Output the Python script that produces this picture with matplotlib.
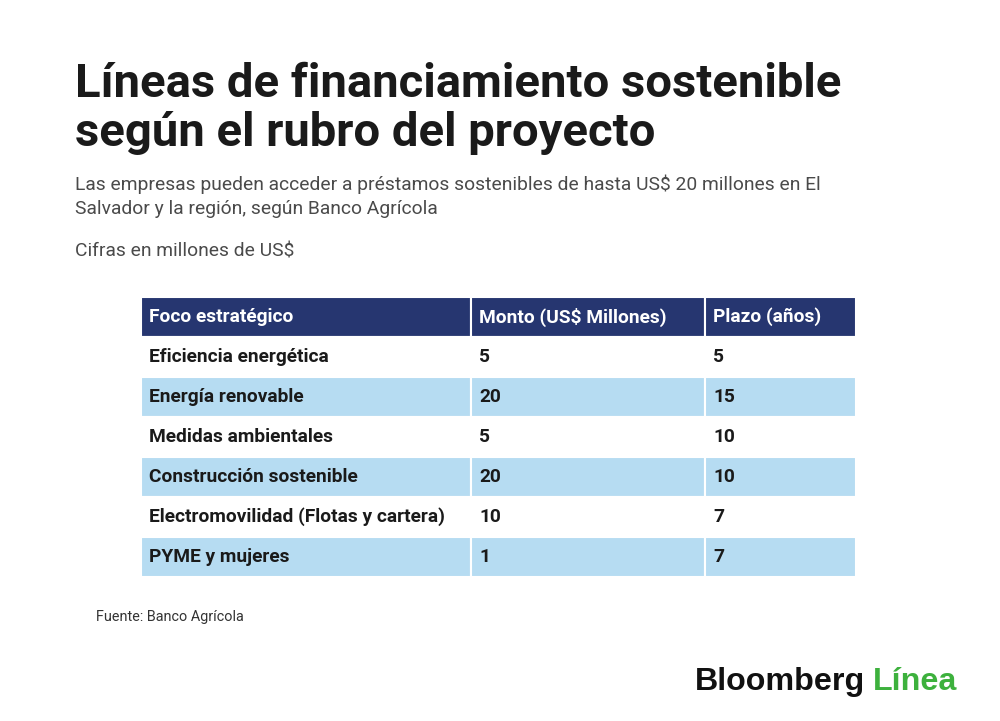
import matplotlib
matplotlib.use("Agg")
import matplotlib.pyplot as plt
from matplotlib.patches import Rectangle

title_lines = ["Líneas de financiamiento sostenible", "según el rubro del proyecto"]
subtitle_lines = ["Las empresas pueden acceder a préstamos sostenibles de hasta US$ 20 millones en El",
                  "Salvador y la región, según Banco Agrícola"]
units_note = "Cifras en millones de US$"
headers = ["Foco estratégico", "Monto (US$ Millones)", "Plazo (años)"]
categories = ["Eficiencia energética", "Energía renovable", "Medidas ambientales",
              "Construcción sostenible", "Electromovilidad (Flotas y cartera)", "PYME y mujeres"]
monto = [5, 20, 5, 20, 10, 1]
plazo = [5, 15, 10, 10, 7, 7]
source = "Fuente: Banco Agrícola"

W, H = 1000, 721
fig = plt.figure(figsize=(W / 100, H / 100), dpi=100)
fig.patch.set_facecolor("white")

def fx(x):
    return x / W

def fy(y):
    return 1 - y / H

FONT = ["Roboto", "DejaVu Sans"]
dark = "#1a1a1a"

fig.text(fx(75), fy(97), title_lines[0], fontsize=34, fontweight="bold", family=FONT, color=dark, va="baseline")
fig.text(fx(75), fy(146), title_lines[1], fontsize=34, fontweight="bold", family=FONT, color=dark, va="baseline")
fig.text(fx(75), fy(190), subtitle_lines[0], fontsize=13.9, family=FONT, color="#4a4a4a", va="baseline")
fig.text(fx(75), fy(214), subtitle_lines[1], fontsize=13.9, family=FONT, color="#4a4a4a", va="baseline")
fig.text(fx(75), fy(256), units_note, fontsize=13.9, family=FONT, color="#4a4a4a", va="baseline")

# table axes
left, right, top, bottom = 141, 856, 297, 577
ax = fig.add_axes([fx(left), fy(bottom), (right - left) / W, (bottom - top) / H])
ax.set_axis_off()
col_widths = [330, 234, 151]
col_edges = [0]
for w in col_widths:
    col_edges.append(col_edges[-1] + w)
nrows = len(categories) + 1
ax.set_xlim(0, col_edges[-1])
ax.set_ylim(nrows, 0)

navy = "#263670"
lightblue = "#b6dcf2"
pad = 8

for r in range(nrows):
    if r == 0:
        fc = navy
        texts = headers
        tc = "white"
    else:
        fc = lightblue if r % 2 == 0 else "white"
        texts = [categories[r - 1], str(monto[r - 1]), str(plazo[r - 1])]
        tc = dark
    for c in range(3):
        ax.add_patch(Rectangle((col_edges[c], r), col_widths[c], 1, facecolor=fc,
                               edgecolor="white", linewidth=1.5))
        ax.text(col_edges[c] + pad, r + 0.45, texts[c], fontsize=13.8, fontweight="bold",
                family=FONT, color=tc, va="center_baseline", ha="left")

fig.text(fx(96), fy(621), source, fontsize=10.4, family=FONT, color="#333333", va="baseline")

t1 = fig.text(fx(695), fy(690), "Bloomberg", fontsize=23.2, fontweight="bold", family=["Liberation Sans", "DejaVu Sans"],
              color="#111111", va="baseline")
fig.canvas.draw()
bb = t1.get_window_extent()
fig.text((bb.x1 + 8) / W, fy(690), "Línea", fontsize=23.2, fontweight="bold",
         family=["Liberation Sans", "DejaVu Sans"], color="#3db13d", va="baseline")

fig.savefig("out.png", dpi=100, facecolor="white")
